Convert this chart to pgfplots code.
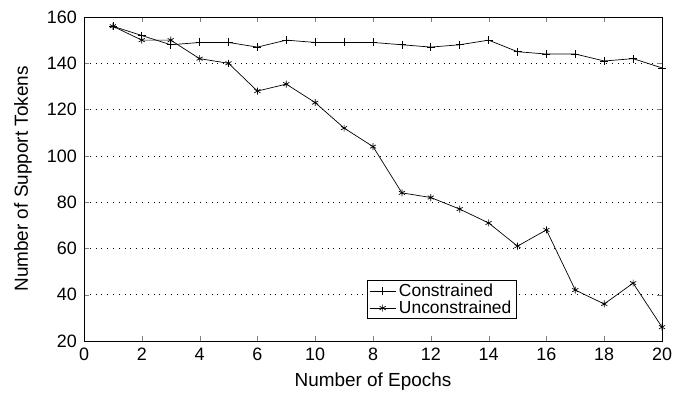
\documentclass[border=0pt]{standalone}
\usepackage{pgfplots}
\pgfplotsset{compat=1.18}
\usepackage{fontspec}
\setmainfont{Liberation Sans}
\newcommand{\tickfont}{\fontsize{18}{20}\selectfont}
\newcommand{\labfont}{\fontsize{19}{22}\selectfont}
\newcommand{\legfont}{\fontsize{17.5}{19}\selectfont}
\begin{document}
\begin{tikzpicture}
\useasboundingbox (0,0) rectangle (684bp,394bp);
\begin{axis}[
  at={(84bp,53bp)}, anchor=south west,
  scale only axis, width=578bp, height=324bp,
  xmin=0, xmax=20, ymin=20, ymax=160,
  xtick={0,2,4,6,8,10,12,14,16,18,20},
  xticklabels={0,2,4,6,10,8,12,14,16,18,20},
  ytick={20,40,...,160},
  tick align=inside,
  major tick length=5bp,
  ymajorgrids,
  grid style={black, line width=0.7pt, dash pattern=on 0.8bp off 5bp},
  axis line style={black, line width=0.6pt},
  tick label style={font=\tickfont},
  xticklabel style={inner sep=0bp, yshift=-7bp},
  yticklabel style={inner sep=0bp, xshift=-7bp},
  /pgf/number format/assume math mode=true,
  xlabel={Number of Epochs},
  ylabel={Number of Support Tokens},
  every axis x label/.style={at={(axis description cs:0.5,-0.125)}, anchor=center, font=\labfont},
  every axis y label/.style={at={(axis description cs:-0.1055,0.5)}, rotate=90, anchor=center, font=\labfont},
  legend style={at={(0.4896,0.188)}, anchor=north west, draw=black, line width=0.6pt,
    inner sep=2bp, row sep=0pt, font=\legfont,
    nodes={inner ysep=1.5bp, inner xsep=3bp}},
  legend image code/.code={\draw[mark repeat=2,mark phase=2,#1] plot coordinates {(0bp,0bp)(13bp,0bp)(26bp,0bp)};},
  legend cell align=left,
]
\addplot[black, line width=0.7pt, mark=+, mark size=4bp] coordinates {
(1,156)(2,152)(3,148)(4,149)(5,149)(6,147)(7,150)(8,149)(9,149)(10,149)
(11,148)(12,147)(13,148)(14,150)(15,145)(16,144)(17,144)(18,141)(19,142)(20,138)};
\addlegendentry{Constrained}
\addplot[black, line width=0.7pt, mark=asterisk, mark size=3.5bp] coordinates {
(1,156)(2,150)(3,150)(4,142)(5,140)(6,128)(7,131)(8,123)(9,112)(10,104)
(11,84)(12,82)(13,77)(14,71)(15,61)(16,68)(17,42)(18,36)(19,45)(20,26)};
\addlegendentry{Unconstrained}
\end{axis}
\end{tikzpicture}
\end{document}
